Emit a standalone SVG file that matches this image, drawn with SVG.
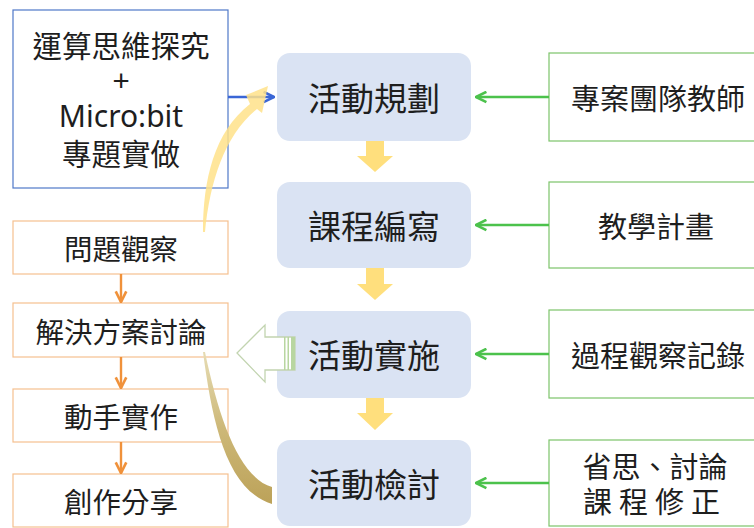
<svg xmlns="http://www.w3.org/2000/svg" width="754" height="528" viewBox="0 0 754 528">
<style>
  text { font-family: "Noto Sans CJK TC", "Noto Sans CJK SC", "Liberation Sans", sans-serif; fill: #1e1e1e; text-anchor: middle; dominant-baseline: central; }
  .center rect { fill: #dae3f3; }
  .center text { font-size: 33px; }
  .right rect { fill: #ffffff; stroke: #7cc46a; stroke-width: 1.2; }
  .right text { font-size: 29px; }
  .left rect { fill: #ffffff; stroke: #f5c08f; stroke-width: 1.2; }
  .left text { font-size: 28.5px; }
  .src rect { fill: #ffffff; stroke: #4f78c8; stroke-width: 1.2; }
  .src text { font-size: 29.5px; }
  .yarrow { fill: #ffd966; opacity: 0.85; }
  .gline { stroke: #4cc24c; stroke-width: 2.6; fill: none; }
  .oline { stroke: #f0913a; stroke-width: 2.4; fill: none; }
  .bline { stroke: #3a66d6; stroke-width: 2.6; fill: none; }
</style>
<defs>
  <marker id="mg" viewBox="0 0 10 10" refX="9" refY="5" markerWidth="5" markerHeight="5" orient="auto" markerUnits="strokeWidth">
    <path d="M1,1 L9,5 L1,9" fill="none" stroke="#4cc24c" stroke-width="2"/>
  </marker>
  <marker id="mo" viewBox="0 0 10 10" refX="9" refY="5" markerWidth="5.5" markerHeight="5.5" orient="auto" markerUnits="strokeWidth">
    <path d="M1,1 L9,5 L1,9" fill="none" stroke="#f0913a" stroke-width="2"/>
  </marker>
  <marker id="mb" viewBox="0 0 10 10" refX="9" refY="5" markerWidth="5" markerHeight="5" orient="auto" markerUnits="strokeWidth">
    <path d="M1,1 L9,5 L1,9" fill="none" stroke="#3a66d6" stroke-width="2"/>
  </marker>
  <linearGradient id="gold" x1="0" y1="0" x2="0" y2="1">
    <stop offset="0" stop-color="#e6dcb4"/>
    <stop offset="0.5" stop-color="#cdb878"/>
    <stop offset="1" stop-color="#bca259"/>
  </linearGradient>
</defs>

<!-- source box -->
<g id="src" class="src">
  <rect x="13" y="10" width="215" height="178"/>
  <text x="121" y="44">運算思維探究</text>
  <text x="121" y="80" style="font-family:'Liberation Sans','Noto Sans CJK TC',sans-serif">+</text>
  <text x="121" y="115" style="font-family:'Noto Sans','Liberation Sans',sans-serif;font-size:30px">Micro:bit</text>
  <text x="121" y="152">專題實做</text>
</g>

<!-- left process boxes -->
<g id="l1" class="left"><rect x="13" y="221" width="215" height="53"/><text x="121" y="247.5">問題觀察</text></g>
<g id="l2" class="left"><rect x="13" y="303" width="215" height="54"/><text x="121" y="330">解決方案討論</text></g>
<g id="l3" class="left"><rect x="13" y="389" width="215" height="53"/><text x="121" y="415.5">動手實作</text></g>
<g id="l4" class="left"><rect x="13" y="474" width="215" height="53"/><text x="121" y="500.5">創作分享</text></g>

<!-- center boxes -->
<g id="c1" class="center"><rect x="277" y="53" width="194" height="88" rx="13"/><text x="374" y="97">活動規劃</text></g>
<g id="c2" class="center"><rect x="277" y="182" width="194" height="86" rx="13"/><text x="374" y="225">課程編寫</text></g>
<g id="c3" class="center"><rect x="277" y="311" width="194" height="87" rx="13"/><text x="374" y="354">活動實施</text></g>
<g id="c4" class="center"><rect x="277" y="440" width="194" height="86" rx="13"/><text x="374" y="483">活動檢討</text></g>

<!-- right boxes -->
<g id="r1" class="right"><rect x="549" y="53" width="215" height="88"/><text x="658" y="97">專案團隊教師</text></g>
<g id="r2" class="right"><rect x="549" y="182" width="215" height="86"/><text x="656" y="225">教學計畫</text></g>
<g id="r3" class="right"><rect x="549" y="310" width="215" height="88"/><text x="658" y="354">過程觀察記錄</text></g>
<g id="r4" class="right"><rect x="549" y="440" width="215" height="86"/>
  <text x="655" y="465">省思、討論</text>
  <text x="655" y="500" style="letter-spacing:7px">課程修正</text>
</g>

<!-- connectors -->
<g id="connectors">
  <!-- yellow down arrows between center boxes -->
  <path class="yarrow" d="M366,141 H384 V156 H393 L375,172 L357,156 H366 Z"/>
  <path class="yarrow" d="M366,268 H384 V284 H393 L375,300 L357,284 H366 Z"/>
  <path class="yarrow" d="M366,398 H384 V413 H393 L375,430 L357,413 H366 Z"/>

  <!-- green arrows -->
  <line class="gline" x1="549" y1="97" x2="476" y2="97" marker-end="url(#mg)"/>
  <line class="gline" x1="549" y1="225" x2="476" y2="225" marker-end="url(#mg)"/>
  <line class="gline" x1="549" y1="354" x2="476" y2="354" marker-end="url(#mg)"/>
  <line class="gline" x1="549" y1="483" x2="476" y2="483" marker-end="url(#mg)"/>

  <!-- blue arrow -->
  <line class="bline" x1="228" y1="97" x2="274" y2="97" marker-end="url(#mb)"/>

  <!-- orange arrows -->
  <line class="oline" x1="121" y1="274" x2="121" y2="302" marker-end="url(#mo)"/>
  <line class="oline" x1="121" y1="357" x2="121" y2="388" marker-end="url(#mo)"/>
  <line class="oline" x1="121" y1="442" x2="121" y2="473" marker-end="url(#mo)"/>

  <!-- curved yellow arrow up to 活動規劃 -->
  <path d="M203,232 C203,180 214,132 250,104 L246,95 L268,86 L262,113 L257,109 C224,136 210,182 205,232 Z" fill="#ffe28a" opacity="0.85"/>

  <!-- curved gold arrow down to 活動檢討 -->
  <path d="M203,352 C212,420 226,490 272,504 L272,487 C240,478 219,420 205,352 Z" fill="url(#gold)"/>

  <!-- hollow striped arrow from 活動實施 to 解決方案討論 -->
  <path d="M295,337 H265 V325 L237,353 L265,382 V370 H295 Z" fill="#ffffff" stroke="#c2d4b0" stroke-width="1.3"/>
  <rect x="284" y="337" width="1.5" height="33" fill="#b8d6a0"/>
  <rect x="287.5" y="337" width="1.5" height="33" fill="#b8d6a0"/>
  <rect x="291" y="337" width="4" height="33" fill="#b8d6a0"/>
</g>
</svg>
